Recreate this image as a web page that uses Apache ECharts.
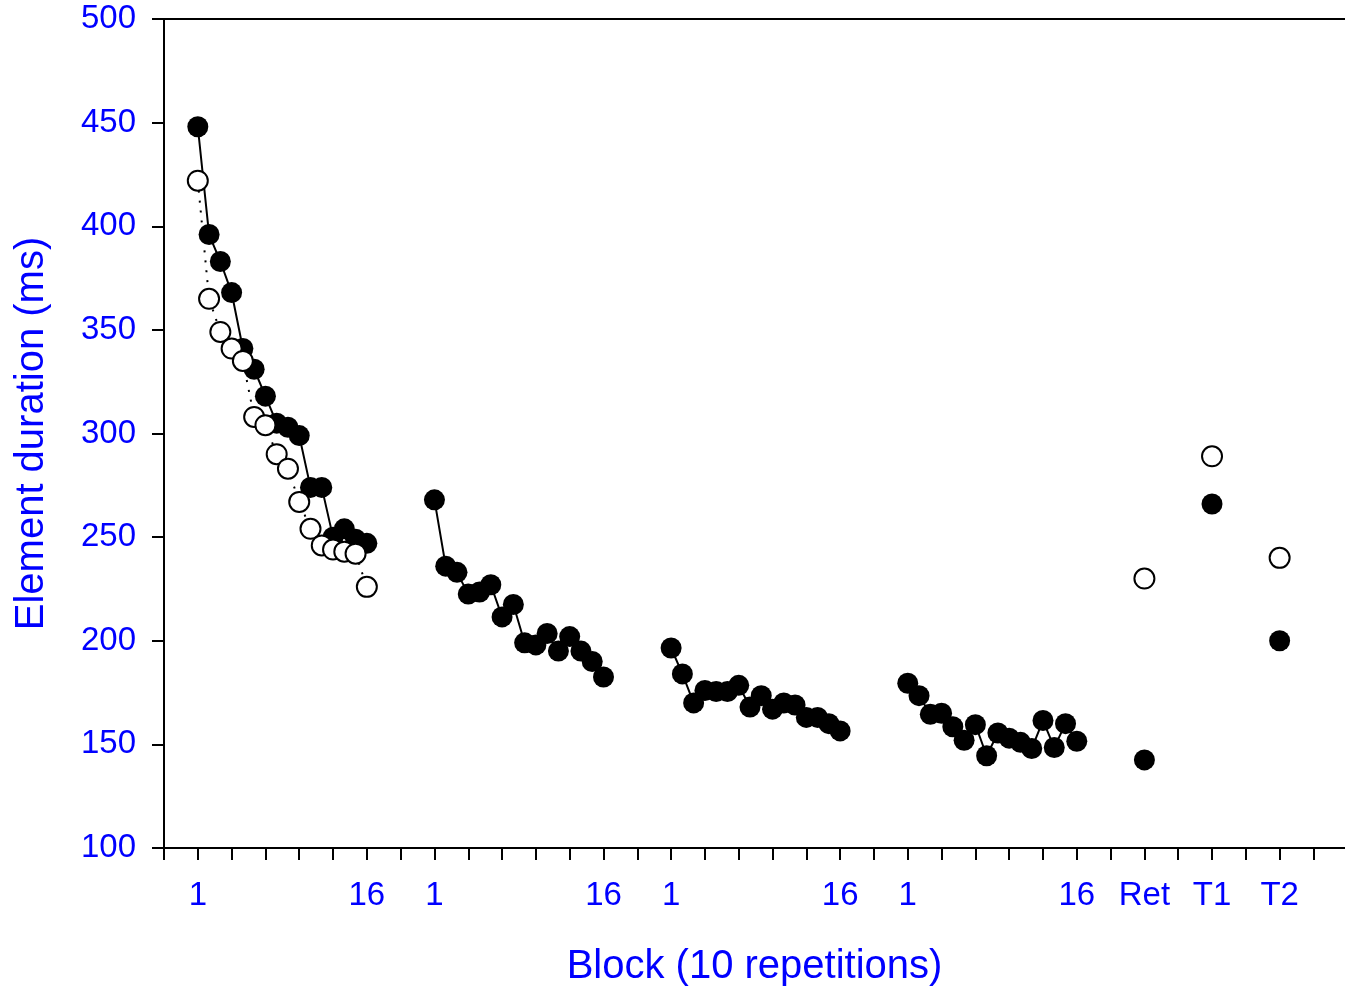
<!DOCTYPE html>
<html>
<head>
<meta charset="utf-8">
<script src="https://cdn.jsdelivr.net/npm/echarts@6/dist/echarts.min.js"></script>
<style>
  html, body { margin: 0; padding: 0; background: #fff; }
  #chart { width: 1345px; height: 987px; }
</style>
</head>
<body>
<div id="chart"></div>
<script>
// ---- data ----
var session1Filled = [448, 396, 383, 368, 341, 331, 318, 305, 303, 299, 274, 274, 250, 254, 249, 247];
var session1Open   = [422, 365, 349, 341, 335, 308, 304, 290, 283, 267, 254, 246, 244, 243, 242, 226];
var session2       = [268, 236, 233, 222.5, 223.5, 227, 211.5, 217.5, 199, 198, 203.5, 195, 202, 195, 190, 182.5];
var session3       = [196.5, 184, 170, 176, 175.5, 175.5, 178.5, 168, 173.5, 167, 170, 169, 163, 163, 160, 156.5];
var session4       = [179.5, 173.5, 164.5, 165, 158.5, 152, 159.5, 144.5, 155.5, 153, 151, 148, 161.5, 148.5, 160, 151.5];
var testLabels     = ["Ret", "T1", "T2"];
var testFilled     = [142.5, 266, 200];
var testOpen       = [230, 289, 240];
var tickLabels     = ["1", "16", "1", "16", "1", "16", "1", "16", "Ret", "T1", "T2"];
var yTicks         = [100, 150, 200, 250, 300, 350, 400, 450, 500];

// ---- x layout: blocks of a session are consecutive units, sessions 21 units apart ----
var SESSION_STEP = 21, FIRST = 3, TEST_START = 87, TEST_STEP = 6;
function sessionPoints(vals, s) {
  return vals.map(function (v, k) { return [FIRST + SESSION_STEP * s + k, v]; });
}
function testPoints(vals) {
  return vals.map(function (v, i) { return [TEST_START + TEST_STEP * i, v]; });
}
var labelValues = [];
for (var s = 0; s < 4; s++) {
  labelValues.push(FIRST + SESSION_STEP * s, FIRST + SESSION_STEP * s + 15);
}
testLabels.forEach(function (t, i) { labelValues.push(TEST_START + TEST_STEP * i); });
var labelMap = {};
labelValues.forEach(function (v, i) { labelMap[v] = tickLabels[i]; });
var tickValues = [];
for (var t = 0; t <= 102; t += 3) tickValues.push(t);

var FONT = '"Liberation Sans", Arial, sans-serif';
var BLUE = '#0000ff';

function filledLine(vals, s) {
  return {
    type: 'line', data: sessionPoints(vals, s),
    symbol: 'circle', symbolSize: 21,
    lineStyle: { color: '#000', width: 2 },
    itemStyle: { color: '#000', borderWidth: 0, opacity: 1 },
    z: 2
  };
}

var chart = echarts.init(document.getElementById('chart'), null, { renderer: 'canvas' });
chart.setOption({
  animation: false,
  backgroundColor: '#fff',
  grid: { left: 164, right: 0, top: 19, bottom: 139, containLabel: false, outerBoundsMode: 'none' },
  xAxis: [{
    type: 'value', min: 0, max: 104.8,
    name: 'Block (10 repetitions)', nameLocation: 'middle', nameGap: 99,
    nameTextStyle: { color: BLUE, fontSize: 40, fontFamily: FONT },
    axisLine: { show: true, onZero: false, lineStyle: { color: '#000', width: 2 } },
    axisTick: { show: true, length: 12, customValues: tickValues, lineStyle: { color: '#000', width: 2 } },
    axisLabel: {
      show: true, customValues: labelValues, margin: 31,
      color: BLUE, fontSize: 33, fontFamily: FONT,
      formatter: function (v) { return labelMap[v] !== undefined ? labelMap[v] : ''; }
    },
    splitLine: { show: false }
  }, {
    type: 'value', position: 'top', min: 0, max: 104.8,
    axisLine: { show: true, onZero: false, lineStyle: { color: '#000', width: 2 } },
    axisTick: { show: false }, axisLabel: { show: false }, splitLine: { show: false }
  }],
  yAxis: {
    type: 'value', min: 100, max: 500, interval: 50,
    name: 'Element duration (ms)', nameLocation: 'middle', nameGap: 112, nameRotate: 90,
    nameTextStyle: { color: BLUE, fontSize: 40, fontFamily: FONT },
    axisLine: { show: true, onZero: false, lineStyle: { color: '#000', width: 2 } },
    axisTick: { show: true, length: 12, lineStyle: { color: '#000', width: 2 } },
    axisLabel: { margin: 28, color: BLUE, fontSize: 33, fontFamily: FONT,
      formatter: function (v) { return yTicks.indexOf(v) >= 0 ? String(v) : ''; } },
    splitLine: { show: false }
  },
  series: [
    filledLine(session1Filled, 0),
    filledLine(session2, 1),
    filledLine(session3, 2),
    filledLine(session4, 3),
    {
      type: 'line', data: sessionPoints(session1Open, 0),
      symbol: 'circle', symbolSize: 20,
      lineStyle: { color: '#000', width: 2, type: [2, 8] },
      itemStyle: { color: '#fff', borderColor: '#000', borderWidth: 2, opacity: 1 },
      z: 3
    },
    {
      type: 'scatter', data: testPoints(testFilled),
      symbol: 'circle', symbolSize: 21,
      itemStyle: { color: '#000', opacity: 1 }, z: 2
    },
    {
      type: 'scatter', data: testPoints(testOpen),
      symbol: 'circle', symbolSize: 20,
      itemStyle: { color: '#fff', borderColor: '#000', borderWidth: 2, opacity: 1 }, z: 3
    }
  ]
});
</script>
</body>
</html>
